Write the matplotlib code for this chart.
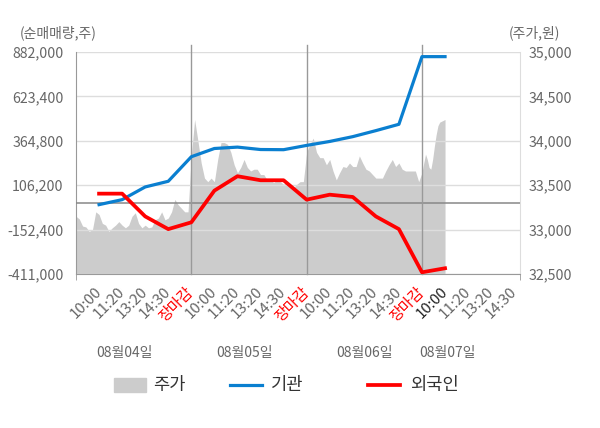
import matplotlib
matplotlib.use('Agg')
import matplotlib.pyplot as plt
import numpy as np
from matplotlib.patches import Rectangle
from matplotlib.lines import Line2D

plt.rcParams['font.family'] = ['Noto Sans CJK KR', 'DejaVu Sans']

# 시간 슬롯 (하루 5칸, 4일째는 진행 중)
slot_labels = ['10:00', '11:20', '13:20', '14:30', '장마감'] * 3 + ['10:00', '11:20', '13:20', '14:30']
day_labels = ['08월04일', '08월05일', '08월06일', '08월07일']

# 기관 / 외국인 누적 순매매량 (슬롯 1..16)
inst = [-7000, 22000, 96000, 129000, 272000, 320000, 328000, 314000, 313000,
        338000, 361000, 389000, 424000, 461000, 855000, 855000]
foreign = [57000, 57000, -75600, -149600, -110000, 74600, 158500, 135000, 135000,
           22000, 51000, 37600, -75600, -149600, -401000, -377600]

# 주가 (원)
price_d1 = [33150, 33120, 33040, 33030, 32980, 33000, 33200, 33170, 33070, 33050,
            32980, 33020, 33050, 33090, 33050, 33020, 33050, 33150, 33190, 33070,
            33020, 33050, 33020, 33030, 33110, 33130, 33200, 33110, 33130, 33200,
            33340, 33280, 33240, 33200, 33200]
price_d2 = [33830, 34240, 34000, 33750, 33580, 33540, 33580, 33540, 33790, 33980,
            33980, 33960, 33870, 33730, 33640, 33700, 33790, 33700, 33660, 33680,
            33680, 33620, 33620, 33560, 33560, 33530, 33560, 33540, 33510, 33540,
            33510, 33470, 33510, 33540, 33540]
price_d3 = [33870, 33960, 34030, 33870, 33810, 33810, 33730, 33790, 33660, 33560,
            33640, 33710, 33700, 33750, 33710, 33710, 33830, 33750, 33680, 33660,
            33620, 33580, 33580, 33580, 33660, 33730, 33790, 33710, 33750, 33680,
            33660, 33660, 33660, 33660, 33540]
price_d4 = [33640, 33750, 33850, 33790, 33700, 33680, 33790, 33940, 34070, 34170,
            34210, 34220, 34230, 34240]

left_ticks = [-411000, -152400, 106200, 364800, 623400, 882000]
right_ticks = [32500, 33000, 33500, 34000, 34500, 35000]

slots = np.arange(1, len(inst) + 1)
px = np.concatenate([np.linspace(0, 5, len(price_d1), endpoint=False),
                     np.linspace(5, 10, len(price_d2), endpoint=False),
                     np.linspace(10, 15, len(price_d3), endpoint=False),
                     np.linspace(15, 16, len(price_d4))])
prices = np.array(price_d1 + price_d2 + price_d3 + price_d4)

fig = plt.figure(figsize=(6, 4.28), dpi=100)
ax = fig.add_axes([76 / 600, 154 / 428, 444 / 600, 222 / 428])
ax2 = ax.twinx()
ax.set_zorder(ax2.get_zorder() + 1)
ax.patch.set_visible(False)
ax2.set_facecolor('#f4f4f4')

# 주가 영역
ax2.fill_between(px, 32500, prices, color='#cccccc', lw=0)
ax2.set_ylim(32500, 35000)
ax2.set_yticks(right_ticks)
ax2.set_yticklabels([f'{t:,}' for t in right_ticks])

# 순매매량
ax.plot(slots, inst, color='#0a7fd0', lw=2.3, zorder=4)
ax.plot(slots, foreign, color='#ff0000', lw=2.7, zorder=4)
ax.axhline(0, color='#888888', lw=1.1, zorder=3)
for b in [5, 10, 15]:
    ax.axvline(b, ymin=0, ymax=1.032, color='#999999', lw=1, clip_on=False, zorder=3)

ax.set_ylim(-411000, 882000)
ax.set_yticks(left_ticks)
ax.set_yticklabels([f'{t:,}' for t in left_ticks])
ax.grid(axis='y', color='#dddddd', lw=1)
ax.set_axisbelow(True)

ax.set_xlim(0, 19.25)
ax.set_xticks(range(1, 20))
ax.set_xticklabels(slot_labels, rotation=45, ha='right', va='center', rotation_mode='anchor')
ax.set_xticks([0, 5, 10, 15, 19.25], minor=True)
ax.tick_params(axis='x', which='major', length=0, pad=11.5, labelsize=10.8, labelcolor='#666666')
ax.tick_params(axis='x', which='minor', length=4, color='#999999')
for i, lab in enumerate(ax.get_xticklabels()):
    if slot_labels[i] == '장마감':
        lab.set_color('red')
ax.get_xticklabels()[15].set_color('#222222')

ax.tick_params(axis='y', length=0, pad=9, labelsize=10.2, labelcolor='#666666')
ax2.tick_params(axis='y', length=0, pad=6, labelsize=10.2, labelcolor='#666666')

for s in ['top', 'right']:
    ax.spines[s].set_visible(False)
ax.spines['left'].set_color('#999999')
ax.spines['bottom'].set_color('#999999')
for s in ['top', 'left', 'bottom']:
    ax2.spines[s].set_visible(False)
ax2.spines['right'].set_color('#dddddd')

fig.text(20 / 600, 1 - 33 / 428, '(순매매량,주)', fontsize=10, color='#666666', va='center')
fig.text(509 / 600, 1 - 33 / 428, '(주가,원)', fontsize=10, color='#666666', va='center')

for x, d in zip([2.1, 7.3, 12.5, 16.1], day_labels):
    ax.text(x, -(353 - 274) / 222, d, transform=ax.get_xaxis_transform(), ha='center',
            va='center', fontsize=10, color='#666666')

# 범례
fig.patches.append(Rectangle((114 / 600, 36 / 428), 32 / 600, 14 / 428,
                             transform=fig.transFigure, color='#cccccc'))
fig.lines.append(Line2D([230 / 600, 262 / 600], [43 / 428] * 2, transform=fig.transFigure,
                        color='#0a7fd0', lw=2.3))
fig.lines.append(Line2D([368 / 600, 400 / 600], [43 / 428] * 2, transform=fig.transFigure,
                        color='#ff0000', lw=2.7))
for x, t in zip([153, 271, 410], ['주가', '기관', '외국인']):
    fig.text(x / 600, 43 / 428, t, fontsize=12.7, color='#333333', va='center')

fig.savefig('out.png', dpi=100)
